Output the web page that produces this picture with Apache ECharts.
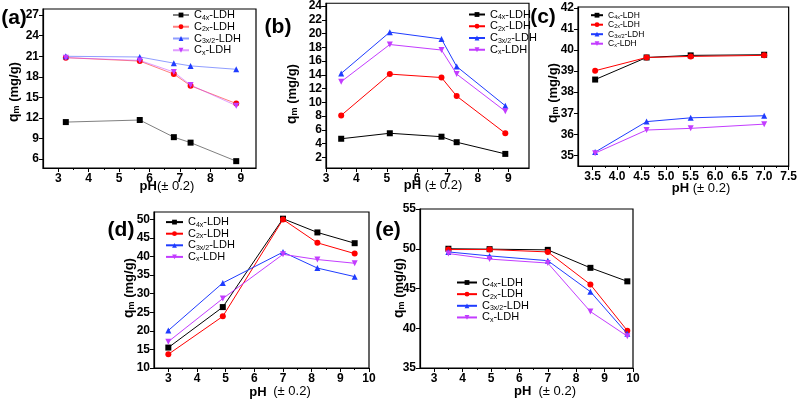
<!DOCTYPE html>
<html><head><meta charset="utf-8">
<script src="https://cdn.jsdelivr.net/npm/echarts@6/dist/echarts.min.js"></script>
<style>html,body{margin:0;padding:0;background:#fff}#c{width:800px;height:400px}</style>
</head><body><div id="c"></div>
<script>
// ---------- data ----------
const seriesNames = ['C4x-LDH', 'C2x-LDH', 'C3x/2-LDH', 'Cx-LDH'];

// panel (a)
const phA = [3.25, 5.68, 6.8, 7.35, 8.85];
const aC4x = [11.4, 11.7, 9.2, 8.4, 5.7];
const aC2x = [20.8, 20.3, 18.4, 16.7, 14.1];
const aC32 = [21.0, 20.9, 20.0, 19.6, 19.1];
const aCx  = [20.8, 20.4, 18.7, 16.8, 13.8];
const xTicksA = [3, 4, 5, 6, 7, 8, 9];
const yTicksA = [6, 9, 12, 15, 18, 21, 24, 27];

// panel (b)
const phB = [3.5, 5.1, 6.8, 7.3, 8.9];
const bC4x = [4.7, 5.5, 5.0, 4.2, 2.5];
const bC2x = [8.1, 14.1, 13.6, 10.9, 5.5];
const bC32 = [14.2, 20.2, 19.2, 15.2, 9.5];
const bCx  = [13.0, 18.4, 17.6, 14.1, 8.7];
const xTicksB = [3, 4, 5, 6, 7, 8, 9];
const yTicksB = [2, 4, 6, 8, 10, 12, 14, 16, 18, 20, 22, 24];

// panel (c)
const phC = [3.55, 4.6, 5.5, 7.0];
const cC4x = [38.6, 39.65, 39.75, 39.78];
const cC2x = [39.02, 39.65, 39.7, 39.75];
const cC32 = [35.15, 36.6, 36.78, 36.88];
const cCx  = [35.1, 36.2, 36.28, 36.48];
const xTicksC = [3.5, 4.0, 4.5, 5.0, 5.5, 6.0, 6.5, 7.0, 7.5];
const yTicksC = [35, 36, 37, 38, 39, 40, 41, 42];

// panel (d)
const phD = [3, 4.9, 7, 8.2, 9.5];
const dC4x = [15.5, 26.4, 50.2, 46.5, 43.6];
const dC2x = [13.7, 23.9, 50.0, 43.7, 40.8];
const dC32 = [20.1, 32.9, 41.2, 36.9, 34.6];
const dCx  = [17.1, 28.7, 40.6, 39.2, 38.2];
const xTicksD = [3, 4, 5, 6, 7, 8, 9, 10];
const yTicksD = [10, 15, 20, 25, 30, 35, 40, 45, 50];

// panel (e)
const phE = [3.5, 4.95, 7, 8.5, 9.8];
const eC4x = [50.0, 49.95, 49.86, 47.6, 45.9];
const eC2x = [49.9, 49.9, 49.6, 45.5, 39.7];
const eC32 = [49.6, 49.1, 48.5, 44.6, 39.3];
const eCx  = [49.4, 48.7, 48.2, 42.1, 39.0];
const xTicksE = [3, 4, 5, 6, 7, 8, 9, 10];
const yTicksE = [35, 40, 45, 50, 55];

// ---------- styling ----------
const FF = '"Liberation Sans", Arial, sans-serif';
const colors = ['#000000', '#ff0000', '#1f3cff', '#c33cff'];
const symbols = ['rect', 'circle', 'triangle', 'triangle'];
const rots = [0, 0, 0, 180];

const panels = [
  {id:'a', xs:phA, ys:[aC4x,aC2x,aC32,aCx], grid:{left:43, top:9, width:213, height:159},
   xMin:2.5, xMax:9.5, yMin:4.7, yMax:27.9, xt:xTicksA, yt:yTicksA, xd:0, lineOp:0.5,
   leg:{left:172, top:9.5, iw:16, lh:12.5, fs:11, ss:7}},
  {id:'b', xs:phB, ys:[bC4x,bC2x,bC32,bCx], grid:{left:326, top:3, width:203, height:165},
   xMin:3, xMax:9.68, yMin:0.45, yMax:24.4, xt:xTicksB, yt:yTicksB, xd:0, lineOp:1,
   leg:{left:468, top:9, iw:16, lh:12.5, fs:11, ss:7}},
  {id:'c', xs:phC, ys:[cC4x,cC2x,cC32,cCx], grid:{left:578, top:7, width:214, height:159},
   xMin:3.2, xMax:7.5, yMin:34.49, yMax:42.05, xt:xTicksC, yt:yTicksC, xd:1, lineOp:1,
   leg:{left:590, top:10.7, iw:12, lh:10, fs:8.5, ss:5.5}},
  {id:'d', xs:phD, ys:[dC4x,dC2x,dC32,dCx], grid:{left:154, top:212, width:215, height:156},
   xMin:2.5, xMax:10, yMin:10, yMax:52, xt:xTicksD, yt:yTicksD, xd:0, lineOp:1,
   leg:{left:165, top:216.6, iw:17, lh:12.2, fs:11, ss:7}},
  {id:'e', xs:phE, ys:[eC4x,eC2x,eC32,eCx], grid:{left:420, top:209, width:213, height:159},
   xMin:2.5, xMax:10, yMin:35, yMax:55, xt:xTicksE, yt:yTicksE, xd:0, lineOp:1,
   leg:{left:456, top:277, iw:20, lh:12.3, fs:11, ss:7}}
];

function legendLabel(name) {
  const base = name.split('#')[0];
  const m = base.match(/^C(.*)-LDH$/);
  return '{n|C}{s|' + m[1] + '}{n|-LDH}';
}

const grids = [], xAxes = [], yAxes = [], series = [], legends = [];
panels.forEach((p, gi) => {
  grids.push(Object.assign({show:true, borderColor:'#000', borderWidth:1.2, containLabel:false}, p.grid));
  const axisCommon = {
    type:'value', gridIndex:gi, splitLine:{show:false},
    axisLine:{show:true, onZero:false, lineStyle:{color:'#000', width:1.2}},
    axisLabel:{color:'#000', fontWeight:'bold', fontSize:12, fontFamily:FF, margin:5}
  };
  xAxes.push(Object.assign({}, axisCommon, {
    min:p.xMin, max:p.xMax,
    axisTick:{show:true, inside:false, length:4, lineStyle:{color:'#000', width:1}, customValues:p.xt},
    axisLabel:Object.assign({}, axisCommon.axisLabel, {customValues:p.xt,
      formatter: v => v.toFixed(p.xd)})
  }));
  yAxes.push(Object.assign({}, axisCommon, {
    min:p.yMin, max:p.yMax,
    axisTick:{show:true, inside:false, length:4, lineStyle:{color:'#000', width:1}, customValues:p.yt},
    axisLabel:Object.assign({}, axisCommon.axisLabel, {customValues:p.yt, margin:4})
  }));
  const legData = [];
  seriesNames.forEach((nm, k) => {
    const full = nm + '#' + p.id;
    legData.push(full);
    series.push({
      type:'line', name:full, xAxisIndex:gi, yAxisIndex:gi,
      data:p.xs.map((x, i) => [x, p.ys[k][i]]),
      symbol:symbols[k], symbolRotate:rots[k], symbolSize:6,
      itemStyle:{color:colors[k]},
      lineStyle:{color:colors[k], width:1, opacity:p.lineOp},
      emphasis:{disabled:true}, z:2 + k
    });
  });
  legends.push({
    data:legData, orient:'vertical', left:p.leg.left, top:p.leg.top,
    itemWidth:p.leg.iw, itemHeight:6, itemGap:0, selectedMode:false, padding:0,
    formatter:legendLabel,
    textStyle:{rich:{
      n:{fontSize:p.leg.fs, fontFamily:FF, color:'#000', lineHeight:p.leg.lh, verticalAlign:'middle'},
      s:{fontSize:p.leg.ss, fontFamily:FF, color:'#000', lineHeight:p.leg.lh, verticalAlign:'bottom'}
    }}
  });
});

// minor x ticks (half-way between major ticks) on extra, label-less axes
panels.forEach((p, gi) => {
  const minor = [];
  for (let i = 0; i < p.xt.length - 1; i++) minor.push((p.xt[i] + p.xt[i + 1]) / 2);
  xAxes.push({
    type:'value', gridIndex:gi, min:p.xMin, max:p.xMax, position:'bottom',
    axisLine:{show:false}, splitLine:{show:false}, axisLabel:{show:false},
    axisTick:{show:true, inside:false, length:2, lineStyle:{color:'#000', width:1}, customValues:minor}
  });
});

// ---------- text labels ----------
const graphics = [];
function txt(x, y, text, rich, opts) {
  graphics.push(Object.assign({type:'text', x:x, y:y, silent:true,
    style:{text:text, rich:rich, align:'center', verticalAlign:'middle', fill:'#000', font:'bold 13px ' + FF}}, opts || {}));
}
const panelLetters = [['(a)', 14, 18], ['(b)', 278, 27], ['(c)', 543, 17], ['(d)', 121, 230], ['(e)', 388, 230]];
panelLetters.forEach(([t, x, y]) => graphics.push({type:'text', x:x, y:y, silent:true,
  style:{text:t, align:'center', verticalAlign:'middle', fill:'#000', font:'bold 21px ' + FF}}));

const phRich = {p:{fontWeight:'bold', fontSize:13, fontFamily:FF}, r:{fontSize:13, fontFamily:FF}};
txt(167, 186, '{p|pH}{r|(± 0.2)}', phRich);
txt(433, 185, '{p|pH }{r|(± 0.2)}', phRich);
txt(701, 188, '{p|pH }{r|(± 0.2)}', phRich);
txt(258, 392, '{p|pH}', phRich);
txt(292, 391, '{r|(± 0.2)}', phRich);
txt(545, 391, '{p|pH  }{r|(± 0.2)}', phRich);

const qRich = {q:{fontWeight:'bold', fontSize:14, fontFamily:FF, verticalAlign:'middle'},
               m:{fontWeight:'bold', fontSize:9, fontFamily:FF, verticalAlign:'bottom'},
               u:{fontWeight:'bold', fontSize:13, fontFamily:FF, verticalAlign:'middle'}};
const qText = '{q|q}{m|m}{u| (mg/g)}';
[[14, 92], [292, 94], [553, 93], [129, 288], [399, 288]].forEach(([x, y]) =>
  txt(x, y, qText, qRich, {rotation:Math.PI / 2}));

const chart = echarts.init(document.getElementById('c'), null, {renderer:'canvas'});
chart.setOption({
  animation:false, backgroundColor:'#fff',
  grid:grids, xAxis:xAxes, yAxis:yAxes, series:series, legend:legends, graphic:graphics
});
</script></body></html>
